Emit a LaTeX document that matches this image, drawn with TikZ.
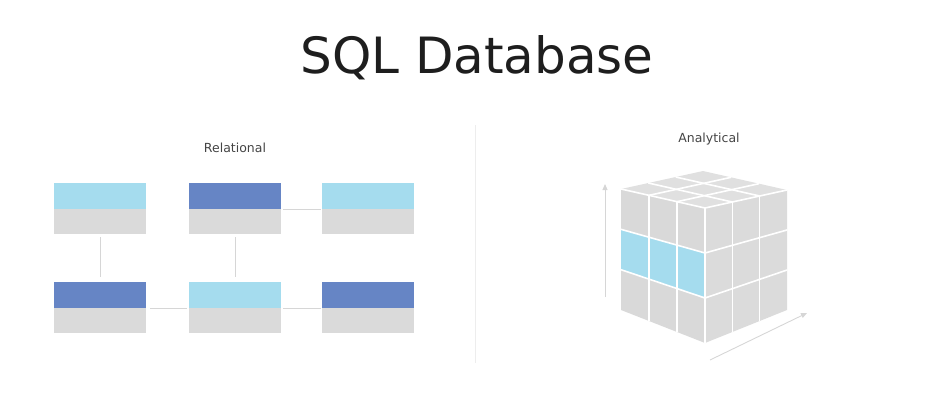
\documentclass[tikz,border=0pt]{standalone}
\usepackage{fontspec}
\setmainfont{DejaVu Sans}
\usepackage{tikz}
\usetikzlibrary{arrows.meta,positioning,calc}

\definecolor{lightblue}{HTML}{A5DCEE}
\definecolor{darkblue}{HTML}{6685C5}
\definecolor{cellgray}{HTML}{DADADA}
\definecolor{linkgray}{HTML}{D6D6D6}
\definecolor{titlegray}{HTML}{1E1E1E}
\definecolor{labelgray}{HTML}{444444}

\begin{document}
\begin{tikzpicture}[x=1pt,y=-1pt,
            head/.style={rectangle,minimum width=92pt,minimum height=26pt,inner sep=0pt,outer sep=0pt},
            lighthead/.style={head,fill=lightblue},
            darkhead/.style={head,fill=darkblue},
            body/.style={rectangle,fill=cellgray,minimum width=92pt,minimum height=25pt,inner sep=0pt,outer sep=0pt},
            link/.style={draw=linkgray,line width=0.9pt},
            axis/.style={draw=linkgray,line width=0.9pt,-{Triangle[length=6pt,width=5pt]}},
            grid/.style={draw=white,line width=1.6pt},
            lab/.style={font=\fontsize{12.5}{15}\selectfont,text=labelgray,anchor=base}
          ]
          \useasboundingbox (0,0) rectangle (944,408);

          %title
          \node[font=\fontsize{50}{60}\selectfont,text=titlegray,anchor=base] (title) at (477,73) {SQL Database};

          %relational tables
          \node[lighthead] (h1) at (100,196) {};
          \node[below=0pt of h1,body] (b1) {};
          \node[right=43pt of h1,darkhead] (h2) {};
          \node[below=0pt of h2,body] (b2) {};
          \node[right=41pt of h2,lighthead] (h3) {};
          \node[below=0pt of h3,body] (b3) {};
          \node[below=48pt of b1,darkhead] (h4) {};
          \node[below=0pt of h4,body] (b4) {};
          \node[right=43pt of h4,lighthead] (h5) {};
          \node[below=0pt of h5,body] (b5) {};
          \node[right=41pt of h5,darkhead] (h6) {};
          \node[below=0pt of h6,body] (b6) {};

          \node[lab] (rel) at (235,152) {Relational};

          %links
          \path[link,shorten <=3pt,shorten >=5pt] (b1) -- (h4);
          \path[link,shorten <=3pt,shorten >=5pt] (b2) -- (h5);
          \path[link,shorten <=2pt,shorten >=1pt] (h2.south east) -- (h3.south west);
          \path[link,shorten <=4pt,shorten >=2pt] (h4.south east) -- (h5.south west);
          \path[link,shorten <=2pt,shorten >=1pt] (h5.south east) -- (h6.south west);

          %divider
          \coordinate (d1) at (475,125);
          \coordinate (d2) at (475,363);
          \draw[draw=black!7,line width=1pt] (d1) -- (d2);

          %cube
          \node[lab] (ana) at (709,142) {Analytical};
          \coordinate (A) at (621,189);
          \coordinate (F) at (705,208);
          \coordinate (R) at (787,190);
          \coordinate (B) at (703,171);
          \coordinate (AL) at (621,310);
          \coordinate (FB) at (705,343);
          \coordinate (RB) at (787,310);

          \fill[black!15] (A) -- (F) -- (FB) -- (AL) -- cycle;
          \fill[black!14] (F) -- (R) -- (RB) -- (FB) -- cycle;
          \fill[black!12] (A) -- (B) -- (R) -- (F) -- cycle;
          \fill[lightblue] ($(A)!0.3333!(AL)$) -- ($(F)!0.3333!(FB)$) -- ($(F)!0.6667!(FB)$) -- ($(A)!0.6667!(AL)$) -- cycle;

          \foreach \k in {0.3333,0.6667} {
            \path[grid] ($(A)!\k!(F)$) -- ($(AL)!\k!(FB)$);
            \path[grid] ($(A)!\k!(AL)$) -- ($(F)!\k!(FB)$);
            \path[grid] ($(F)!\k!(R)$) -- ($(FB)!\k!(RB)$);
            \path[grid] ($(F)!\k!(FB)$) -- ($(R)!\k!(RB)$);
            \path[grid] ($(A)!\k!(B)$) -- ($(F)!\k!(R)$);
            \path[grid] ($(A)!\k!(F)$) -- ($(B)!\k!(R)$);
          }
          \path[grid] (A) -- (F) -- (R);
          \path[grid] (F) -- (FB);

          %axes
          \coordinate (v0) at (605,297);
          \coordinate (v1) at (605,184);
          \coordinate (w0) at (710,360);
          \coordinate (w1) at (807,313);
          \path[axis] (v0) -- (v1);
          \path[axis] (w0) -- (w1);

      \end{tikzpicture}
\end{document}
